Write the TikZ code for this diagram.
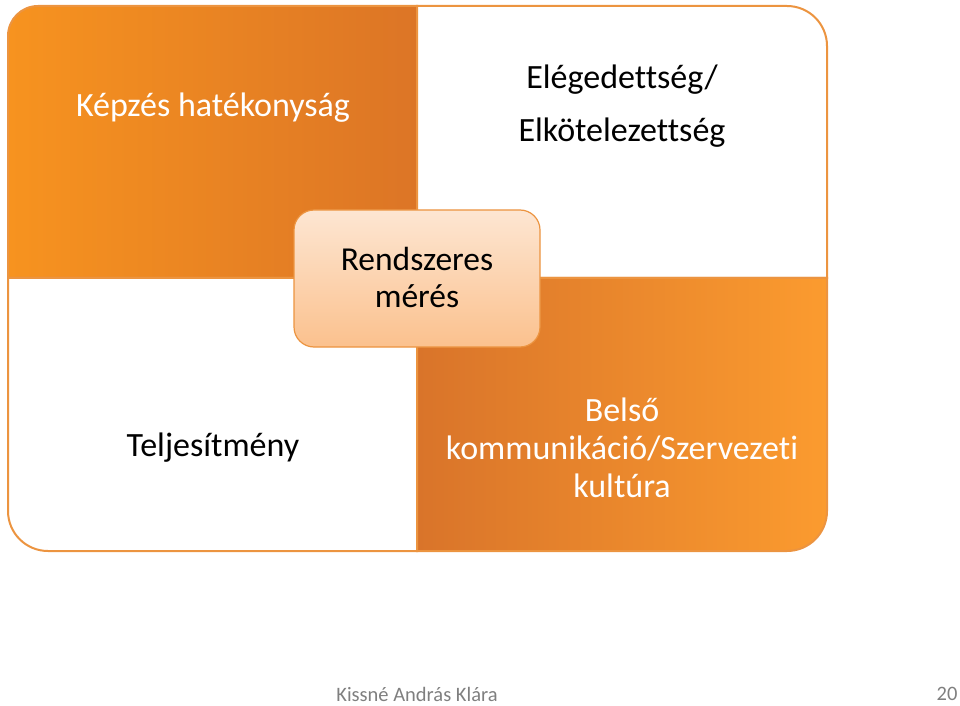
\documentclass[tikz,border=0pt]{standalone}
\usepackage{fontspec}
\setmainfont[Ligatures=NoCommon]{Carlito}
\definecolor{orA}{HTML}{F7931F}
\definecolor{orB}{HTML}{DC7526}
\definecolor{orC}{HTML}{D9742A}
\definecolor{orD}{HTML}{FB9B2F}
\definecolor{edge}{HTML}{EC9440}
\definecolor{peachT}{HTML}{FDE6D2}
\definecolor{peachB}{HTML}{FBC18E}
\definecolor{foot}{HTML}{7F7F7F}
\tikzset{
  x=1pt,y=1pt,
  quadedge/.style={draw=edge, line width=2pt},
  bigtext/.style={font=\fontsize{34}{38}\selectfont, align=center, inner sep=0pt},
  foottext/.style={font=\fontsize{20.5}{22}\selectfont, text=foot, inner sep=0pt},
}
\begin{document}
\begin{tikzpicture}
\useasboundingbox (0,0) rectangle (960,705);
% top-left quadrant
\shade[left color=orA, right color=orB] (8,427) -- (8,669) arc[start angle=180, end angle=90, radius=30] -- (417,699) -- (417,427) -- cycle;
\draw[quadedge] (8,427) -- (8,669) arc[start angle=180, end angle=90, radius=30] -- (417,699) -- (417,427) -- cycle;
% top-right quadrant
\fill[white] (417,427) -- (417,699) -- (787,699) arc[start angle=90, end angle=0, radius=40] -- (827,427) -- cycle;
\draw[quadedge] (417,427) -- (417,699) -- (787,699) arc[start angle=90, end angle=0, radius=40] -- (827,427) -- cycle;
% bottom-left quadrant
\fill[white] (8,427) -- (8,194) arc[start angle=180, end angle=270, radius=40] -- (417,154) -- (417,427) -- cycle;
\draw[quadedge] (8,427) -- (8,194) arc[start angle=180, end angle=270, radius=40] -- (417,154) -- (417,427) -- cycle;
% bottom-right quadrant
\shade[left color=orC, right color=orD] (417,427) -- (827,427) -- (827,194) arc[start angle=0, end angle=-90, radius=40] -- (417,154) -- cycle;
\draw[quadedge] (417,427) -- (827,427) -- (827,194) arc[start angle=0, end angle=-90, radius=40] -- (417,154) -- cycle;
% centre box
\node[draw=edge, line width=1.2pt, rounded corners=20pt, top color=peachT, bottom color=peachB,
      minimum width=246pt, minimum height=137pt, inner sep=0pt] (center) at (417,426.5) {};
% texts
\node[bigtext, text=white] (kepzes) at (213,597) {Képzés hatékonyság};
\node[bigtext, font=\fontsize{34}{53}\selectfont] (eleg) at (622,598.5) {Elégedettség/\\Elkötelezettség};
\node[bigtext, font=\fontsize{33.5}{37}\selectfont] (rend) at (417,427.5) {Rendszeres\\mérés};
\node[bigtext] (telj) at (213,257) {Teljesítmény};
\node[bigtext, text=white] (belso) at (622,257) {Belső\\kommunikáció/Szervezeti\\kultúra};
% footer
\node[foottext] (author) at (417,11) {Kissné András Klára};
\node[foottext] (page) at (947,11) {20};
\end{tikzpicture}
\end{document}
